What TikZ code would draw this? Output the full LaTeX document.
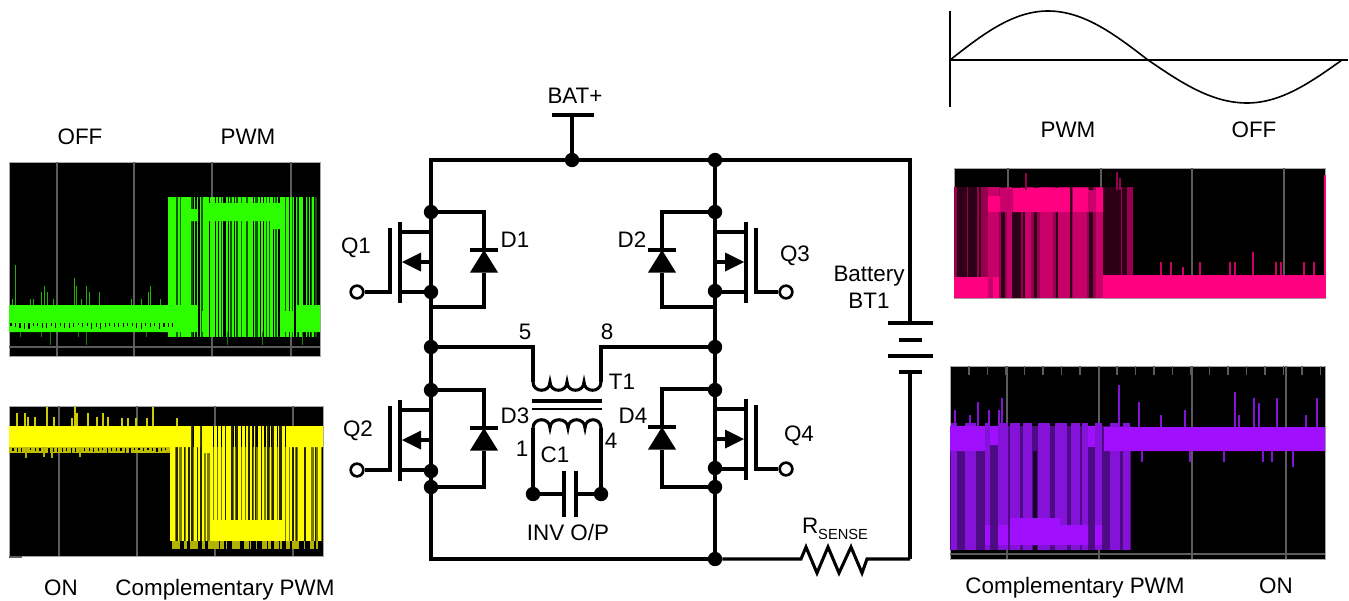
\documentclass[tikz,border=0pt]{standalone}
\usepackage{fontspec}
\setmainfont{Liberation Sans}
\definecolor{scgreen}{HTML}{2EFF00}
\definecolor{scgreendk}{HTML}{0C5A00}
\definecolor{scyellow}{HTML}{FFFF00}
\definecolor{scyellowdk}{HTML}{7A7A00}
\definecolor{scpink}{HTML}{FF0080}
\definecolor{scpinkdk}{HTML}{98004F}
\definecolor{scpinkmd}{HTML}{C8006A}
\definecolor{scpurple}{HTML}{A010FF}
\definecolor{scpurpledk}{HTML}{4E0C84}
\definecolor{scpurplemd}{HTML}{8412D8}
\definecolor{scgrid}{HTML}{5C5C5C}
\tikzset{
  wire/.style={line width=2.3pt},
  thinwire/.style={line width=1.2pt},
  dot/.style={circle,fill=black,inner sep=0pt,minimum size=10.8pt},
  ring/.style={circle,draw=black,fill=white,line width=2pt,inner sep=0pt,minimum size=9.5pt},
  lbl/.style={inner sep=0pt,font=\fontsize{16.8}{19}\selectfont},
  gridline/.style={scgrid,line width=0.8pt},
  scframe/.style={draw=black!35,line width=0.5pt},
}
% one transistor with its diode, on a rail
\newcommand{\mosfet}[6]{
  \begin{scope}[shift={(#2,#4)},xscale=#3]
    \coordinate (#1top) at (0,0);
    \coordinate (#1dr) at (0,20);
    \coordinate (#1drb) at (-30,20);
    \coordinate (#1cha) at (-31,10);
    \coordinate (#1chb) at (-31,91);
    \coordinate (#1gta) at (-41,16);
    \coordinate (#1gtb) at (-41,80);
    \node[ring] (#1g) at (-#6,80) {};
    \coordinate (#1srb) at (-30,80);
    \coordinate (#1sr) at (0,80);
    \coordinate (#1bd) at (0,50);
    \coordinate (#1tip) at (-29,50);
    \coordinate (#1ba) at (-10,40.5);
    \coordinate (#1bb) at (-10,59.5);
    \coordinate (#1bm) at (-10,50);
    \coordinate (#1da) at (53,0);
    \coordinate (#1dm) at (53,38);
    \coordinate (#1dl) at (39,38);
    \coordinate (#1dr2) at (67,38);
    \coordinate (#1dbl) at (39,60.5);
    \coordinate (#1dbr) at (67,60.5);
    \coordinate (#1dbm) at (53,60.5);
    \coordinate (#1dz) at (53,#5);
    \coordinate (#1z) at (0,#5);
    \draw[wire] (#1top) -- (#1da) -- (#1dm) (#1dl) -- (#1dr2);
    \draw[wire] (#1dbm) -- (#1dz) -- (#1z);
    \fill (#1dm) -- (#1dbl) -- (#1dbr) -- cycle;
    \draw[wire] (#1drb) -- (#1dr) (#1cha) -- (#1chb) (#1gta) -- (#1gtb) -- (#1g);
    \draw[wire] (#1srb) -- (#1sr) (#1bm) -- (#1bd);
    \fill (#1tip) -- (#1ba) -- (#1bb) -- cycle;
  \end{scope}
}
% random stripes of a scope trace
\newcommand{\pwmbars}[6]{
  \pgfmathsetmacro{\xnext}{#2+#6}
  \foreach \xb in {#2,\xnext,...,#3} {
    \pgfmathsetmacro{\wb}{0.5+(#6-0.6)*rnd}
    \fill[#1] (\xb,#4) rectangle (\xb+\wb,#5);
  }
}
\newcommand{\notches}[4]{
  \pgfmathsetmacro{\xnext}{#1+4.5}
  \foreach \xb in {#1,\xnext,...,#2} {
    \pgfmathsetmacro{\wb}{0.4+1.6*rnd}
    \pgfmathsetmacro{\hb}{#3+(#4-#3)*(0.4+0.6*rnd)}
    \fill[black] (\xb,#3) rectangle (\xb+\wb,\hb);
  }
}
\begin{document}
\begin{tikzpicture}[x=0.75pt,y=-0.75pt]
\useasboundingbox (0,0) rectangle (1349,600);
\pgfmathsetseed{7}

% green trace
\fill[black] (9,162) rectangle (320,356);
\draw[scframe] (9,162) rectangle (320,356);
\foreach \x in {57,134,212,291} \draw[gridline] (\x,162) -- (\x,356);
\draw[gridline,line width=1.2pt] (9,347) -- (320,347);
\fill[scgreendk] (168,197) rectangle (317,337);
\pwmbars{black}{168}{314}{197}{337}{5}
\pwmbars{scgreen}{168}{315}{197}{337}{3.2}
\fill[scgreen] (208,203) rectangle (283,221) (191,209) rectangle (198,221) (270,203) rectangle (283,229);
\fill[scgreen] (9,305) rectangle (187,332) (190,305) rectangle (197,332) (202,311) rectangle (208,332) (285,311) rectangle (293,332) (297,305) rectangle (320,332);
\notches{10}{172}{323}{329}
\foreach \x/\y in {15/265,44/286,47/292,41/292,74/278,76/286,86/286,89/292,99/292,150/286,148/292,131/299,141/299,160/299,12/299,30/299,33/299,53/299,81/299}
  \draw[scgreen!70!black,line width=0.7pt] (\x,305) -- (\x,\y);
\foreach \x/\y in {50/345,86/345,41/337,20/337,78/337,146/337,227/345,262/345,302/345}
  \draw[scgreen!50!black,line width=0.7pt] (\x,332) -- (\x,\y);

% yellow trace
\fill[black] (9,406) rectangle (323,556);
\draw[scframe] (9,406) rectangle (323,556);
\foreach \x in {59,137,215,293} \draw[gridline] (\x,406) -- (\x,556);
\fill[scyellowdk] (170,447) rectangle (322,541);
\pwmbars{black!70!scyellowdk}{170}{319}{426}{541}{6}
\pwmbars{scyellow}{170}{320}{426}{541}{4}
\pwmbars{scyellow!70!black}{172}{320}{541}{549}{6}
\fill[scyellow] (210,520) rectangle (285,541);
\fill[scyellow] (9,426) rectangle (191,447) (194,426) rectangle (200,447) (204,426) rectangle (210,453) (287,426) rectangle (323,447);
\fill[scyellow!75!black] (9,447) rectangle (170,453);
\notches{12}{168}{448}{453}
\foreach \x/\y in {47/407,75/407,153/407,25/413,77/413,88/413,17/413,28/417,35/417,54/417,72/418,97/417,103/413,108/417,122/418,128/418,136/418,147/418,177/418}
  \draw[scyellow!80!black,line width=0.8pt] (\x,426) -- (\x,\y);
\foreach \x/\y in {26/458,44/457,52/458,80/457}
  \draw[scyellow!70!black,line width=0.8pt] (\x,447) -- (\x,\y);
\draw[gridline,line width=1pt] (9,557) -- (22,557);

% pink trace
\fill[black] (954,168) rectangle (1325,298);
\draw[scframe] (954,168) rectangle (1325,298);
\foreach \x in {1008,1101,1192,1284} \draw[gridline] (\x,168) -- (\x,298);
\fill[scpinkdk] (954,187) rectangle (1133,298);
\pwmbars{black!70!scpinkdk}{957}{1129}{187}{298}{11}
\foreach \xa/\xb in {988/999,1007/1012,1025/1031,1040/1053,1058/1070,1073/1087,1096/1103}
  \fill[scpinkmd] (\xa,187) rectangle (\xb,298);
\fill[scpink] (954,277) rectangle (988,298) (1103,275) rectangle (1325,298);
\fill[scpink] (993,277) rectangle (999,298);
\fill[scpink] (988,196) rectangle (1000,212) (1013,188) rectangle (1070,212) (1073,188) rectangle (1088,212) (1096,188) rectangle (1103,212);
\fill[scpinkmd] (1000,188) rectangle (1013,212) (1088,190) rectangle (1096,212);
\fill[scpink] (1324,175) rectangle (1325.5,298);
\foreach \x/\y in {1161/262,1171/262,1183/267,1200/262,1230/262,1235/262,1253/252,1276/262,1281/262,1304/262,1314/262}
  \draw[scpink!80!black,line width=0.9pt] (\x,275) -- (\x,\y);
\foreach \x/\y in {1026/173,1117/172,1120/178}
  \draw[scpinkdk,line width=0.9pt] (\x,190) -- (\x,\y);

% purple trace
\fill[black] (950,366) rectangle (1325,559);
\draw[scframe] (950,366) rectangle (1325,559);
\foreach \x in {1007,1099,1192,1286} \draw[gridline] (\x,366) -- (\x,559);
\foreach \x in {969,987.5,...,1323} \draw[gridline] (\x,366) -- (\x,375);
\draw[gridline,line width=1.2pt] (950,554) -- (1325,554);
\fill[scpurpledk] (950,426) rectangle (1131,550);
\foreach \xa/\xb in {951/957,965/976,985/990,998/1008,1010/1020,1023/1032,1038/1050,1055/1067,1071/1080,1082/1088,1095/1102,1110/1120,1123/1130}
  \fill[scpurplemd] (\xa,423) rectangle (\xb,550);
\fill[black!70!scpurpledk] (1033,451) rectangle (1037,550);
\fill[scpurple] (985,525) rectangle (990,545) (998,525) rectangle (1008,545) (1010,518) rectangle (1060,545) (1060,525) rectangle (1088,545) (1095,525) rectangle (1102,545);
\fill[scpurple] (950,426) rectangle (985,451) (990,426) rectangle (998,445) (1104,427) rectangle (1325,451);
\fill[scpurple] (1088,426) rectangle (1095,447);
\foreach \x/\y in {1119/385,1139/402,1161/415,1185/410,1235/392,1239/415,1254/398,1259/403,1277/398,1306/415,1317/398,955/410,978/402,989/410,1002/398,999/410,970/415}
  \draw[scpurplemd,line width=0.9pt] (\x,427) -- (\x,\y);
\foreach \x/\y in {1142/462,1190/462,1224/462,1263/462,1272/462,1293/467}
  \draw[scpurplemd,line width=0.9pt] (\x,450) -- (\x,\y);

% sine
\coordinate (so) at (950,60);
\coordinate (sa) at (950,11);
\coordinate (sb) at (950,107);
\coordinate (sc) at (1348,60);
\coordinate (sp) at (1048,11);
\coordinate (sm) at (1148,60);
\coordinate (sn) at (1247,103);
\coordinate (se) at (1342,60);
\draw[thinwire] (sa) -- (sb) (so) -- (sc);
\draw[thinwire] (so) sin (sp) cos (sm) sin (sn) cos (se);

% nodes
\node[dot] (jbat) at (572,160) {};
\node[dot] (jtr) at (715,160) {};
\node[dot] (jq1t) at (431,212) {};
\node[dot] (jq1s) at (431,292) {};
\node[dot] (jl) at (431,347) {};
\node[dot] (jq2t) at (431,390) {};
\node[dot] (jq2s) at (431,471) {};
\node[dot] (jq2b) at (431,487) {};
\node[dot] (jq3t) at (715,212) {};
\node[dot] (jq3s) at (715,291) {};
\node[dot] (jr) at (715,347) {};
\node[dot] (jq4t) at (715,390) {};
\node[dot] (jq4s) at (715,468) {};
\node[dot] (jq4b) at (715,487) {};
\node[dot] (jbr) at (715,559) {};
\node[dot] (jca) at (533,494) {};
\node[dot] (jcb) at (601,494) {};

\mosfet{qa}{431}{1}{212}{95}{74}
\mosfet{qb}{431}{1}{390}{97}{74}
\mosfet{qc}{715}{-1}{212}{95}{71}
\mosfet{qd}{715}{-1}{389}{98}{71}

% rails
\coordinate (tl) at (431,160);
\coordinate (tr) at (910,160);
\coordinate (bl) at (431,559);
\coordinate (br) at (910,559);
\coordinate (bata) at (572,115);
\coordinate (batl) at (552,115);
\coordinate (batr) at (594,115);
\draw[wire] (jq1t) -- (tl) -- (tr) -- (910,323);
\draw[wire] (jbat) -- (bata) (batl) -- (batr);
\draw[wire] (jq1t) -- (jq1s) -- (jl) -- (jq2t) -- (jq2s) -- (jq2b) -- (bl) -- (jbr);
\draw[wire] (jtr) -- (jq3t) -- (jq3s) -- (jr) -- (jq4t) -- (jq4s) -- (jq4b) -- (jbr);

% battery
\coordinate (pa) at (910,323);
\coordinate (pb) at (910,372);
\draw[wire] (888,323) -- (933,323) (899,340) -- (922,340) (888,356) -- (933,356) (899,372) -- (922,372);
\draw[wire] (pb) -- (br);

% sense resistor
\coordinate (ra) at (867,559);
\coordinate (rb) at (801,559);
\draw[wire] (br) -- (ra) -- (862,573) -- (851,547) -- (839,573) -- (828,547) -- (817,573) -- (806,547) -- (rb) -- (jbr);

% transformer
\coordinate (wa) at (533,347);
\coordinate (wb) at (601,347);
\coordinate (pca) at (533,382);
\coordinate (pcb) at (601,382);
\draw[wire] (jl) -- (wa) -- (pca);
\draw[wire] (jr) -- (wb) -- (pcb);
\draw[wire] (pca) .. controls (533,393) and (550,393) .. (550,382)
  .. controls (550,393) and (567,393) .. (567,382)
  .. controls (567,393) and (584,393) .. (584,382)
  .. controls (584,393) and (601,393) .. (601,382);
\draw[wire] (532,401) -- (602,401);
\draw[line width=1.9pt] (532,409) -- (602,409);
\coordinate (sca) at (533,428);
\coordinate (scb) at (601,428);
\draw[wire] (sca) .. controls (533,417) and (550,417) .. (550,428)
  .. controls (550,417) and (568,417) .. (568,428)
  .. controls (568,417) and (585,417) .. (585,428)
  .. controls (585,417) and (601,417) .. (601,428);
\draw[wire] (sca) -- (jca) (scb) -- (jcb);
\coordinate (cpa) at (564,494);
\coordinate (cpb) at (576,494);
\draw[wire] (jca) -- (cpa) (cpb) -- (jcb);
\draw[wire] (564,471) -- (564,517) (576,471) -- (576,517);

% labels
\node[lbl] (lbat) at (575,96) {BAT+};
\node[lbl] (lq1) at (356,248) {Q1};
\node[lbl] (lq2) at (358,431) {Q2};
\node[lbl] (lq3) at (795,256) {Q3};
\node[lbl] (lq4) at (799,436) {Q4};
\node[lbl] (ld1) at (515,240) {D1};
\node[lbl] (ld2) at (632,240) {D2};
\node[lbl] (ld3) at (515,416) {D3};
\node[lbl] (ld4) at (633,416) {D4};
\node[lbl] (l5) at (525,332) {5};
\node[lbl] (l8) at (607,332) {8};
\node[lbl] (lt1) at (622,382) {T1};
\node[lbl] (l1) at (522,449) {1};
\node[lbl] (l4) at (611,441) {4};
\node[lbl] (lc1) at (555,455) {C1};
\node[lbl] (linv) at (568,532) {INV O/P};
\node[lbl] (lbatt) at (869,276) {Battery};
\node[lbl] (lbt1) at (869,301) {BT1};
\node[lbl] (lrs) at (835,529) {R\raisebox{-0.45ex}{\fontsize{11}{12}\selectfont SENSE}};
\node[lbl] (loff) at (80,137) {OFF};
\node[lbl] (lpwm) at (248,137) {PWM};
\node[lbl] (lon) at (61,588) {ON};
\node[lbl] (lcomp) at (225,590) {Complementary PWM};
\node[lbl] (rpwm) at (1068,130) {PWM};
\node[lbl] (roff) at (1254,130) {OFF};
\node[lbl] (rcomp) at (1075,588) {Complementary PWM};
\node[lbl] (ron) at (1276,586) {ON};
\end{tikzpicture}
\end{document}
